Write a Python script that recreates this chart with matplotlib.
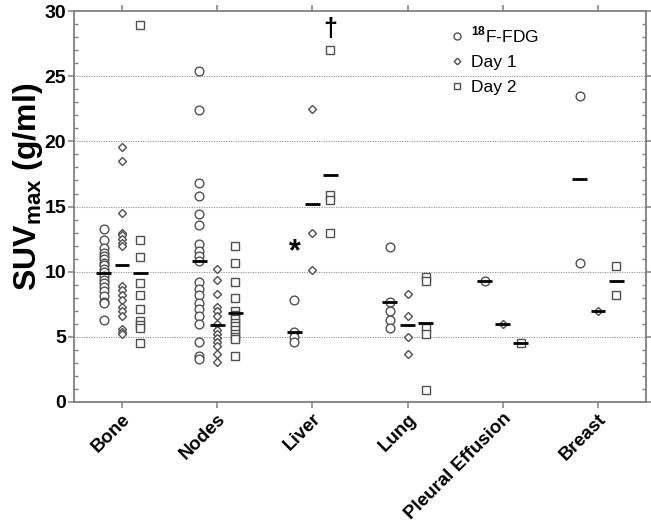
import matplotlib
matplotlib.use("Agg")
import matplotlib.pyplot as plt
import numpy as np
from matplotlib.ticker import MultipleLocator

plt.rcParams['font.family'] = ['Liberation Sans', 'DejaVu Sans']
plt.rcParams['mathtext.fontset'] = 'custom'
plt.rcParams['mathtext.rm'] = 'Liberation Sans'
plt.rcParams['mathtext.bf'] = 'Liberation Sans:bold'

categories = ["Bone", "Nodes", "Liver", "Lung", "Pleural Effusion", "Breast"]

fdg = [
    [13.3, 12.4, 11.8, 11.4, 11.2, 11.0, 10.7, 10.5, 10.2, 10.0, 9.7, 9.4, 9.1, 8.8, 8.5, 8.1, 7.7, 7.6, 6.3],
    [25.4, 22.4, 16.8, 15.8, 14.4, 13.6, 12.1, 11.6, 11.2, 10.8, 9.2, 8.7, 8.2, 7.6, 7.1, 6.6, 6.0, 4.6, 3.5, 3.3],
    [7.8, 5.4, 5.0, 4.6],
    [11.9, 7.7, 7.0, 6.3, 5.7],
    [9.3],
    [23.5, 10.7],
]
day1 = [
    [19.6, 18.5, 14.5, 13.0, 12.8, 12.5, 12.2, 12.0, 8.9, 8.6, 8.2, 7.8, 7.3, 7.0, 6.6, 5.6, 5.4, 5.2],
    [10.2, 9.4, 8.3, 7.3, 7.0, 6.6, 6.0, 5.5, 5.2, 4.9, 4.6, 4.3, 3.7, 3.1],
    [22.5, 13.0, 10.1],
    [8.3, 6.6, 5.0, 3.65],
    [6.0],
    [7.0],
]
day2 = [
    [28.9, 12.4, 11.1, 9.1, 8.2, 7.1, 6.2, 5.9, 5.7, 4.5],
    [12.0, 10.7, 9.2, 8.0, 7.0, 6.7, 6.4, 6.1, 5.8, 5.5, 5.2, 5.0, 4.8, 3.5],
    [27.0, 15.9, 15.5, 13.0],
    [9.6, 9.3, 5.7, 5.2, 0.9],
    [4.5],
    [10.4, 8.2],
]
fdg_mean = [9.9, 10.8, 5.4, 7.7, 9.3, 17.1]
day1_mean = [10.5, 5.9, 15.2, 5.9, 6.0, 7.0]
day2_mean = [9.9, 6.8, 17.4, 6.1, 4.5, 9.3]

fig = plt.figure(figsize=(6.51, 5.27), dpi=100)
ax = fig.add_axes([0.1143, 0.2372, 0.8774, 0.7418])

off = 0.19
half = 0.078
ec = '#505050'
series = [
    (fdg, fdg_mean, -off, 'o', 6.3, r'$^{\mathbf{18}}$F-FDG'),
    (day1, day1_mean, 0.0, 'D', 4.2, 'Day 1'),
    (day2, day2_mean, off, 's', 6.0, 'Day 2'),
]
for data, means, dx, mk, ms, lab in series:
    first = True
    for i, vals in enumerate(data):
        xs = np.full(len(vals), i + dx)
        ax.plot(xs, vals, linestyle='none', marker=mk, markersize=ms,
                markerfacecolor='white', markeredgecolor=ec, markeredgewidth=1.0,
                label=lab if first else None, zorder=3)
        first = False
    for i, m in enumerate(means):
        ax.hlines(m, i + dx - half, i + dx + half, colors='black', linewidth=2.0, zorder=4)

# annotations
ax.text(2 - off, 11.5, '*', ha='center', va='center', fontsize=22, fontweight='bold', zorder=5)
ax.text(2 + off, 28.6, '†', ha='center', va='center', fontsize=18, fontweight='bold', zorder=5)

ax.set_xlim(-0.5, 5.5)
ax.set_ylim(0, 30)
ax.set_xticks(range(len(categories)))
ax.set_xticklabels(categories, rotation=45, ha='right', rotation_mode='anchor',
                   fontsize=13.5, fontweight='bold')
ax.yaxis.set_major_locator(MultipleLocator(5))
ax.yaxis.set_minor_locator(MultipleLocator(1))
for lbl in ax.get_yticklabels():
    lbl.set_fontweight('bold')
    lbl.set_fontsize(14)

for y in [5, 10, 15, 20, 25]:
    ax.axhline(y, color='#909090', linestyle=(0, (1, 1.2)), linewidth=0.8, zorder=1)

for sp in ax.spines.values():
    sp.set_color('#808080')
    sp.set_linewidth(1.3)

ax.tick_params(axis='y', which='major', direction='out', length=4, width=1.1, color='#808080', left=True, right=True, pad=2)
ax.tick_params(axis='y', which='minor', direction='in', length=3, width=1.0, color='#808080', left=True, right=True)
ax.tick_params(axis='x', which='major', direction='out', length=4, width=1.1, color='#808080', top=True, pad=2)
ax.tick_params(axis='x', which='minor', bottom=False, top=False)

ax.set_ylabel(r'SUV$_{\mathbf{max}}$ (g/ml)', fontsize=23, fontweight='bold')
ax.yaxis.set_label_coords(-0.052, 0.55)

leg = ax.legend(loc='upper left', bbox_to_anchor=(0.628, 1.005), frameon=False,
                fontsize=12.5, handletextpad=0.3, labelspacing=0.55, handlelength=1.0,
                markerscale=0.8)

fig.savefig('out.png', dpi=100)
